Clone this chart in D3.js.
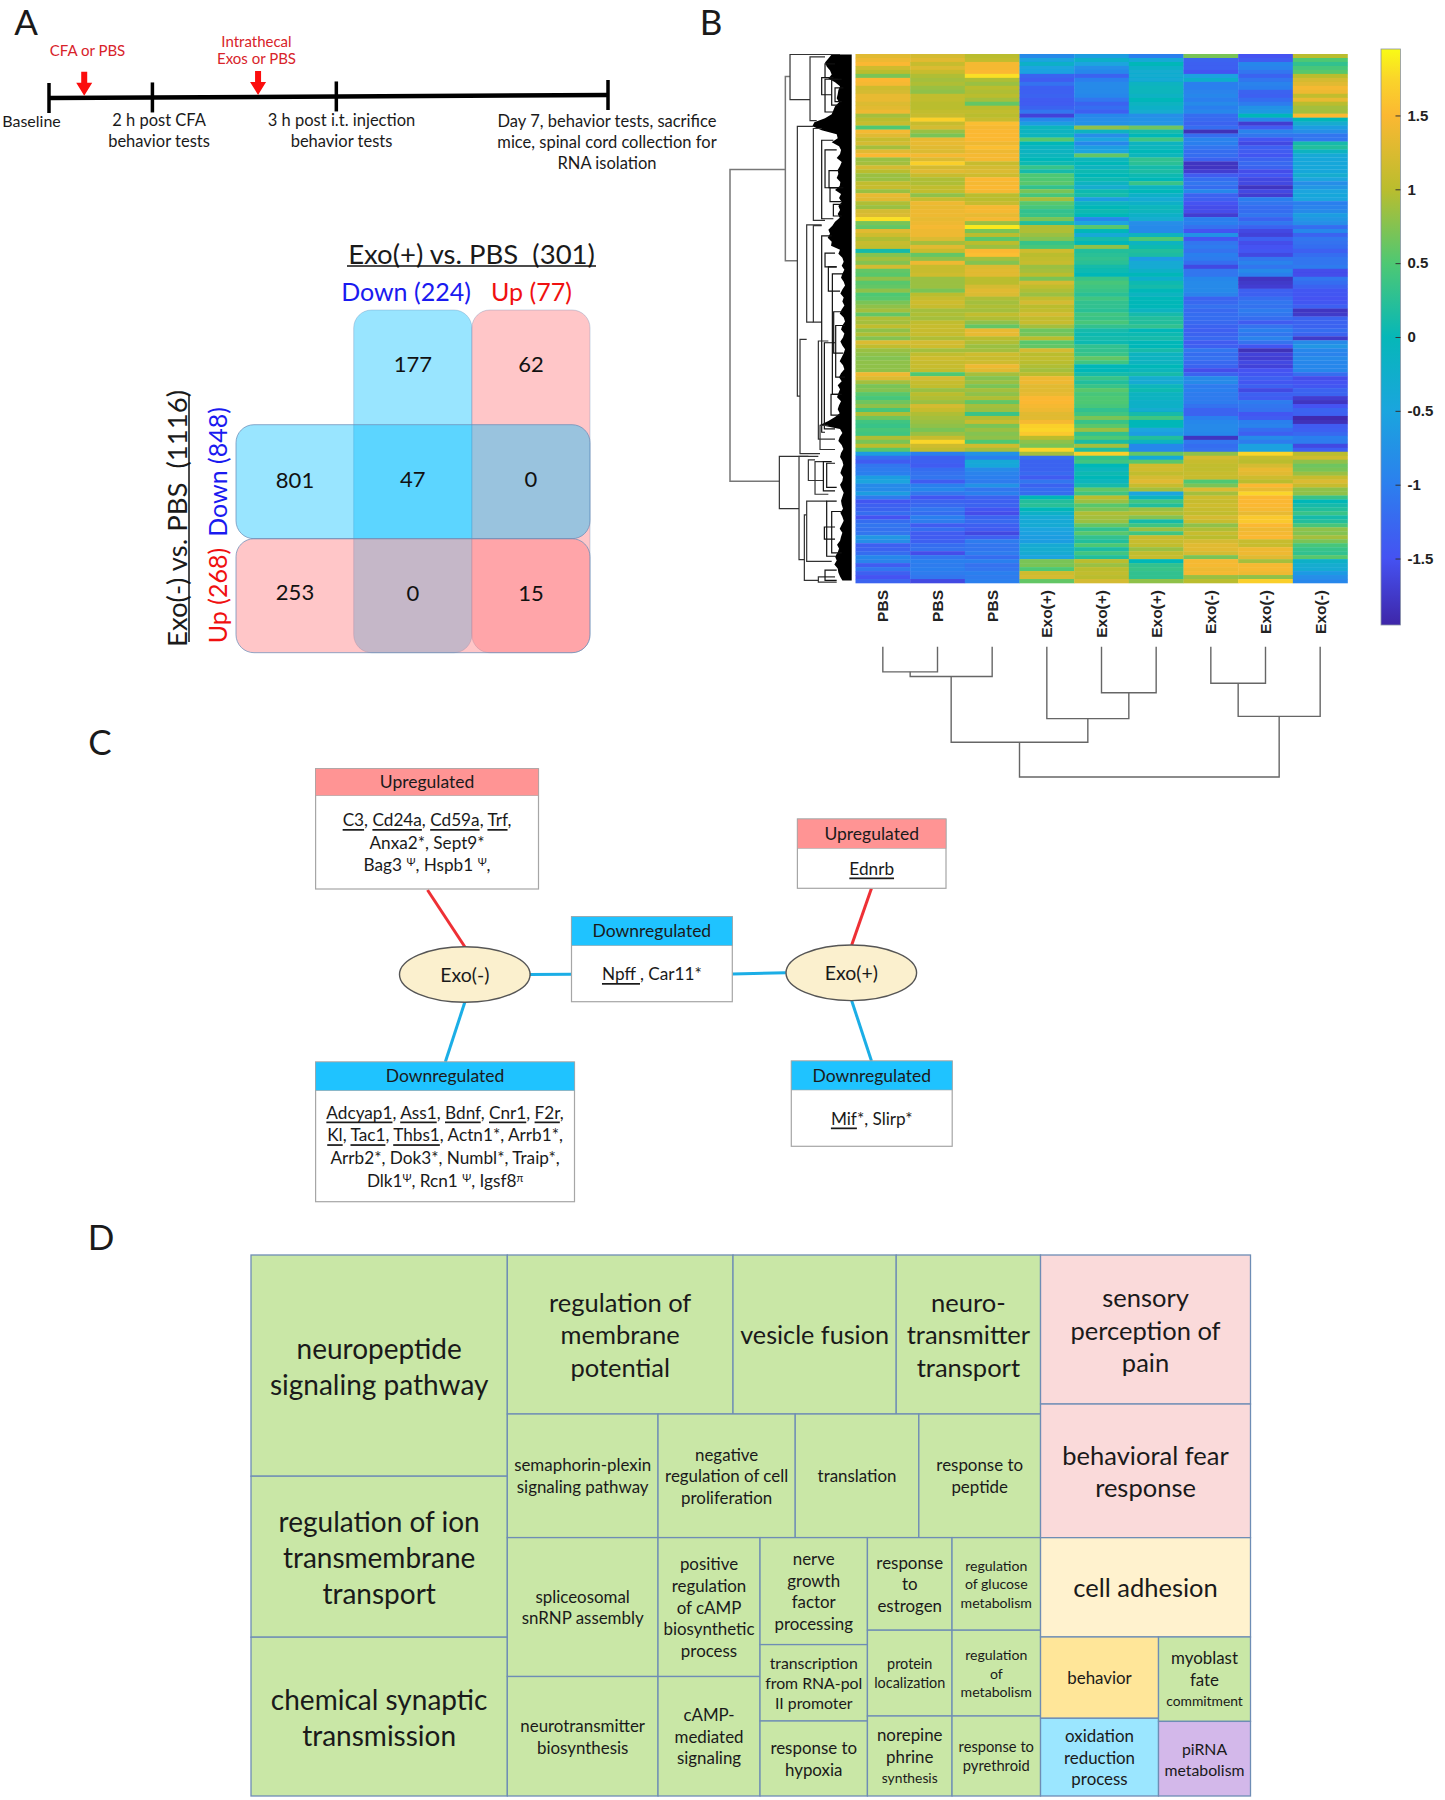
<!DOCTYPE html>
<html><head><meta charset="utf-8">
<script src="https://cdn.jsdelivr.net/npm/d3@7"></script>
<style>
html,body{margin:0;padding:0;background:#fff}
svg{display:block}
text{font-family:Lato,"Open Sans",sans-serif;fill:#1a1a1a;white-space:pre}
</style></head><body>
<svg id="fig" width="1445" height="1800" xmlns="http://www.w3.org/2000/svg"></svg>
<script>
/* ---------- Panel A : timeline ---------- */
const timelineStops = [0, 0.185, 0.514, 1];
const timelineTexts = [
  ["Baseline"], ["2 h post CFA","behavior tests"],
  ["3 h post i.t. injection","behavior tests"],
  ["Day 7, behavior tests, sacrifice","mice, spinal cord collection for","RNA isolation"]];
const timelineArrows = [0.063, 0.374];
const arrowTexts = [["CFA or PBS"],["Intrathecal","Exos or PBS"]];

/* ---------- Panel A : Venn table ---------- */
const vennColumns = ["Down (224)", "Up (77)"];
const vennRows = ["Down (848)", "Up (268)"];
const vennTop = [177, 62];
const vennLeft = [801, 253];
const vennInner = [[47, 0], [0, 15]];

/* ---------- Panel B : heat map, one array per sample, top gene group to bottom ---------- */
const sampleNames = ["PBS","PBS","PBS","Exo(+)","Exo(+)","Exo(+)","Exo(-)","Exo(-)","Exo(-)"];
const pbs1 = [1.3,1.4,1.5,1.15,1.0, .7,1.5,1.45,1.15,1.2, 1.35,1.35,1.25,1.3,1.4, .9,1.0,1.1,.5,1.45, 1.3,1.1,1.2,.9,1.3, 1.5,.85,.9,1.2,1.0, .85,.85,1.05,1.1,.85, 1.35,1.3,.95,.85,1.2, 1.25,1.8,.7,.6,1.3,
 1.15,.95,1.1,1.05,.1, .75,.9,.75,1.2,.6, .55,.8,.55,.6,.8, .5,.55,.7,.8,.9, .6,.95,.9,1.05,.8, .95,.75,1.25,1.05,.85, .8,.75,.8,.8,.8, 1.4,1.25,.9,.7,.75, .55,.45,.65,.8,.45,
 .95,.65,.4,.35,.45, .4,.95,.7,1.0,.55, -.6,-1.2,-1.4,-1.1,-1.05, -1.0,-.6,-.5,-.85,-.85, -.6,-1.05,-1.45,-1.35,-1.3, -1.2,-1.5,-1.2,-1.1,-1.15, -1.1,-.7,-.8,-1.35,-1.3, -1.2,-.9,-.95,-1.4,-1.1, -1.35,-1.5,-1.3];
const pbs2 = [1.2,1.3,1.1,1.25,1.1, .95,.9,.95,.85,.8, 1.05,1.05,1.0,1.0,1.05, 1.1,1.7,1.1,1.2,.85, .7,1.35,1.35,1.3,1.25, 1.45,1.25,1.7,1.2,1.3, 1.1,.95,.95,1.05,1.05, .8,1.1,1.4,1.35,1.4, 1.4,1.35,1.4,1.45,1.4,
 1.4,1.25,.9,1.3,1.1, .6,.8,1.4,1.1,1.1, 1.15,.85,.85,.85,.7, 1.0,1.1,1.15,1.1,.9, .95,.9,1.05,1.1,1.1, 1.1,.95,1.2,1.15,.9, 1.05,1.15,1.1,1.1,1.05, .5,1.2,1.1,1.05,.85, 1.0,.95,.85,1.2,1.1,
 .95,.9,.85,.8,.7, .85,1.1,1.75,1.15,1.05, -1.0,-1.35,-1.35,-1.4,-1.2, -1.15,-1.1,-1.4,-1.0,-.9, -1.1,-1.45,-1.3,-1.25,-1.1, -1.2,-1.0,-1.05,-1.4,-1.2, -1.4,-1.4,-1.35,-1.2,-1.15, -1.55,-1.1,-1.0,-1.05,-1.0, -1.05,-1.1,-1.6];
const pbs3 = [1.0,1.05,1.45,1.45,1.5, 1.8,.95,.85,1.0,.95, 1.0,.9,.6,1.0,1.05, 1.0,1.1,1.55,1.45,1.5, 1.5,1.5,1.4,1.55,1.4, 1.45,1.45,1.1,1.2,1.25, 1.15,1.5,1.45,1.5,1.45, 1.0,1.0,1.1,1.45,1.45, 1.35,1.45,.85,1.85,.7,
 1.0,.55,1.0,.85,1.5, 1.55,.9,.75,1.25,1.3, 1.3,1.0,1.0,1.2,1.3, 1.25,.95,.9,.95,.9, 1.05,.95,.8,.6,1.35, 1.35,1.0,.95,.85,.9, 1.15,1.1,1.15,1.4,1.3, .9,.75,.85,.7,.9, .8,.95,.6,.9,.85,
 .35,.95,1.1,.7,.85, .75,.8,.5,1.15,.9, -.75,-1.0,-.4,-.45,-.85, -.95,-1.0,-1.05,-.75,-1.1, -1.0,-1.3,-1.35,-1.3,-1.45, -1.55,-1.3,-1.25,-1.35,-1.4, -1.6,-1.35,-1.05,-1.1,-1.1, -1.05,-1.2,-1.0,-1.15,-1.1, -1.0,-1.05,-1.0];
const exoP1 = [-.85,-.5,-.2,-.5,-.55, -1.3,-1.4,-1.15,-1.35,-1.35, -1.3,-1.4,-1.4,-1.3,-1.1, -1.65,-.9,-.6,-.05,-.1, -.05,.55,.0,-.1,-.1, -.05,.0,.05,.35,.1, .5,.5,.55,.3,.7, .45,.9,.55,.45,.3, .35,.7,.2,.95,.95,
 .85,.75,.35,.45,1.15, 1.0,1.05,1.1,.85,.9, 1.0,.7,1.2,1.05,.95, .85,1.05,1.2,1.0,1.05, 1.2,1.05,1.1,.9,.65, .7,1.0,.55,.6,1.2, 1.0,1.05,1.0,.95,.9, 1.0,1.4,1.4,1.3,1.3, 1.35,1.5,1.5,1.45,1.4,
 1.3,1.3,1.45,1.7,1.75, 1.65,1.0,.8,.7,1.75, .9,-1.2,-1.3,-1.3,-1.3, -1.25,-1.4,-1.1,-1.3,-1.2, -1.2,.0,.2,.25,.0, -.2,-.35,-.4,-.35,-.5, -.55,-.6,-.6,-.35,-.3, -.35,-.5,.7,.7,.5, 1.15,1.2,.6];
const exoP2 = [-.6,-.2,-.5,-.8,-.9, -1.3,-1.0,-.85,-.85,-.85, -.9,-1.1,-1.3,-1.2,-1.35, -.9,-.8,-.75,.8,-.1, -.8,-.5,-.9,-.6,-.5, .6,-.05,.0,-.1,.05, .0,.05,-.1,-.3,.05, .1,-.6,-.1,.0,.05, .0,-.9,-.5,.55,.0,
 -.4,.1,.0,.8,.2, .25,.3,.25,.1,.05, .0,.35,.45,.4,.35, .25,.4,.3,.3,.25, .4,.35,.45,.3,.1, .05,.1,.05,.3,.3, .35,.6,.4,.0,.0, .1,.35,.2,.35,.55, .45,.5,.5,.45,.3,
 .4,.7,.35,.55,.85, .3,.5,.15,.9,.2, 1.7,.3,.4,.0,-.05, .05,.0,-.05,.1,.6, .4,1.0,.85,.55,.7, .95,.9,.85,.6,.3, .55,.3,.2,.5,.15, .4,.2,1.0,.85,1.0, 1.05,1.0,1.2];
const exoP3 = [-1.0,-.4,.0,-.2,-.3, -.3,-.35,-.1,-.05,-.05, -.15,.0,-.1,-.2,-.3, -.8,-.75,-.7,.65,.1, .0,.4,-.1,-.05,.0, -.05,.3,.25,.1,.15, .05,.0,.35,-.1,.0, -.2,-.35,-.2,-.05,-.05, -.2,-.3,-.8,-.85,-.85,
 -.1,.5,-.1,.05,.2, .15,-.6,-.35,-.35,-.2, .0,-.25,.05,.1,.0, -.1,.0,.0,.0,-.1, .1,.2,.2,.3,.0, .05,.1,.0,.0,.1, -.1,-.1,-.1,.0,-.05, .1,-.3,-.35,-.05,.05, -.1,-.1,-.2,-.2,-.3,
 .1,.4,.0,.0,-.5, -.6,.2,-.1,-.9,-.9, .6,-.4,.55,1.15,1.15, 1.05,1.2,1.3,1.1,.9, -.5,-.1,.4,.2,.85, .95,.75,.1,.4,.85, .4,1.1,1.1,1.05,.85, 1.05,1.1,.0,.3,.35, .3,.3,.8];
const exoN1 = [.7,-1.3,-1.35,-1.35,-1.5, -.55,-.25,-1.0,-1.0,-.95, -.9,-1.0,-.85,-1.0,-.9, -1.2,-1.25,-1.3,-1.2,-1.85, -1.2,-.95,-1.0,-1.1,-1.2, -1.2,-1.3,-1.8,-1.8,-1.7, -1.4,-1.2,-1.1,-1.2,-.9, -1.3,-1.35,-1.5,-1.55,-1.55, -1.7,-1.0,-1.0,-1.15,-1.5,
 -.75,-1.45,-1.1,-1.05,-1.15, -1.0,-1.05,-1.2,-1.6,-1.1, -1.1,-.9,-.85,-.85,-.85, -.95,-1.3,-1.25,-1.15,-1.25, -1.2,-1.2,-1.25,-1.3,-1.35, -1.3,-1.25,-1.4,-1.35,-1.1, -1.2,-1.15,-1.25,-1.3,-1.55, -1.3,-.85,-.85,-1.05,-1.0, -1.05,-1.05,-1.05,-1.15,-1.3,
 -1.3,-1.0,-.9,-.85,-.85, -.9,-1.8,-1.1,-1.2,-1.15, .8,1.2,1.1,1.05,1.05, 1.1,1.1,.5,.7,1.25, .9,1.15,1.1,1.15,1.1, 1.05,1.2,1.1,.8,.95, 1.1,1.0,1.2,1.3,1.3, 1.2,.7,1.45,1.45,1.4, 1.45,.85,1.0];
const exoN2 = [-1.5,-1.4,-.9,-.95,-1.1, -1.3,-1.1,-.95,-1.0,-1.3, -1.35,-1.2,-1.05,-.75,-.65, .0,-.9,-1.7,-1.4,-.95, -1.1,-1.45,-1.6,-1.35,-1.4, -1.45,-1.3,-1.25,-1.3,-1.55, -1.45,-1.6,-1.6,-1.8,-1.6, -1.7,-1.0,-1.1,-1.2,-1.2, -1.1,-1.3,-1.1,-1.3,-1.6,
 -1.65,-1.35,-1.55,-1.5,-1.45, -1.6,-1.1,-.95,-1.1,-.85, -1.0,-1.8,-1.75,-1.7,-1.35, -1.35,-1.2,-1.1,-1.15,-1.05, -1.1,-1.2,-1.4,-1.15,-1.0, -1.1,-.95,-1.15,-1.45,-1.85, -1.65,-1.7,-1.6,-1.65,-1.5, -1.45,-1.35,-1.45,-1.35,-1.6, -1.35,-1.4,-1.05,-1.1,-1.15,
 -1.45,-1.4,-1.0,-.95,-1.2, -1.35,-.85,-1.05,-.55,-.55, 1.75,1.1,1.0,1.2,1.35, 1.3,1.15,1.0,1.5,1.35, 1.75,1.5,1.5,1.5,1.45, 1.35,1.65,1.65,1.5,1.4, 1.45,1.5,1.1,1.1,1.4, 1.4,1.3,.9,1.45,1.45, 1.4,.8,1.7];
const exoN3 = [1.0,.5,.3,.45,.55, 1.0,1.2,1.3,1.45,1.4, 1.05,1.35,1.0,.9,.9, 1.5,.0,-.3,-.6,-.8, -1.1,-1.1,.1,.2,-.1, -.4,-.45,-.45,-.45,-.45, -.3,-.5,-.8,-.7,-.5, -.45,-.5,-1.0,-.95,-.85, -.6,-.7,-.8,-1.2,-.9,
 -1.3,-1.1,-1.15,-1.2,-1.35, -1.2,-1.1,-1.1,-1.05,-1.55, -1.55,-1.1,-1.2,-1.3,-1.45, -1.45,-1.5,-1.45,-1.35,-1.8, -1.75,-1.3,-1.3,-1.3,-1.2, -1.3,-1.75,-.85,-.7,-.9, -.95,-.85,-.9,-.9,-.9, -1.2,-1.55,-1.5,-1.45,-1.3, -1.3,-1.7,-1.8,-1.5,-1.3,
 -1.35,-1.9,-1.85,-1.4,-1.35, -1.25,-1.0,-1.05,-1.6,-1.35, 1.0,1.15,.8,.65,.7, .85,1.1,1.25,1.1,.8, .8,.35,.0,.1,.2, .35,.1,.2,.45,.8, .75,.9,.7,.45,.35, .3,.55,-.2,-.3,-.35, -.65,-.8,-.9];
const heatColumns = [pbs1,pbs2,pbs3,exoP1,exoP2,exoP3,exoN1,exoN2,exoN3];

/* colour bar */
const colorDomain = [-1.95,-1.5,-1,-.5,0,.5,1,1.5,1.75,1.95];
const colorRange = ["#3E26A8","#4552F2","#2C7FEE","#1AA5DE","#06B7B8","#4EC873","#BABD2E","#FBB832","#FAD52A","#F9FB15"];
const colorTicks = [-1.5,-1,-.5,0,.5,1,1.5];

/* sample tree: merges as [child, child, height]; children < 9 are samples, others earlier merges */
const sampleMerges = [[0,1,105.7],[9,2,101],[4,5,84.7],[3,11,58.7],[10,12,35],[6,7,94.3],[14,8,61],[13,15,0]];

/* gene tree, read in picture units (x left to right, y top to bottom) */
const geneClades = [[15,347,1252,181,163],[181,77,612,195,217],[195,13,144,345,255],[255,20,205,300,275],
 [217,222,1005,265,225],[265,228,495,290,300],[225,840,1172,245,285],[245,508,790,290,265],[265,510,790,290,290],
 [163,1180,1332,280,222],[222,1180,1480,250,238],[238,1350,1540,245,280],[245,1310,1485,305,320],
 [290,540,1110,320,300],[250,1190,1250,270,295],[270,1195,1290,295,310],[280,845,1130,310,330],
 [300,40,80,330,325],[290,80,130,320,320],[300,85,180,340,325],[320,85,160,350,340],[330,110,150,355,350],
 [290,262,490,325,325],[300,290,400,335,340],[312,350,400,345,355],[315,400,440,345,350],[325,448,482,350,350],
 [300,590,630,330,335],[310,630,700,335,345],[322,650,1000,355,350],[326,760,880,355,355],[332,800,950,360,360],
 [318,1000,1060,345,345],[298,850,1100,330,330],[285,1090,1160,310,330],[305,1200,1270,330,335],[295,1195,1280,320,330],
 [305,1310,1470,335,330],[298,1385,1420,330,330],[320,1340,1460,350,350],[280,1530,1545,330,335],[300,1510,1540,335,335]];
/* left edge of the solid leaf block, one reading per heat-map row, same units */
const leafEdge = [320,310,300,305,315,320,310,330,345,340,338,335,342,330,325,320,300,268,262,290,
 335,338,320,342,348,345,335,350,345,338,340,335,346,344,330,348,342,350,340,345,
 338,344,330,322,310,315,308,320,318,345,340,352,356,350,358,352,348,356,360,352,
 346,356,352,358,350,344,356,360,352,348,358,354,346,352,360,356,350,344,354,358,
 348,342,350,338,345,340,336,348,342,338,344,330,310,285,345,352,344,340,350,355,
 348,345,352,355,350,346,354,352,345,350,356,352,348,350,354,346,352,356,350,344,
 352,348,345,336,342,338,330,335,328,338,340,345,352];

/* ---------- Panel C : gene network ---------- */
const groupTitles = ["Upregulated","Downregulated","Downregulated","Upregulated","Downregulated"];
const groupGenes = [
  ["_C3_, _Cd24a_, _Cd59a_, _Trf_,","Anxa2*, Sept9*","Bag3 ^Ψ^, Hspb1 ^Ψ^,"],
  ["_Adcyap1_, _Ass1_, _Bdnf_, _Cnr1_, _F2r_,","_Kl_, _Tac1_, _Thbs1_, Actn1*, Arrb1*,","Arrb2*, Dok3*, Numbl*, Traip*,","Dlk1^Ψ^, Rcn1 ^Ψ^, Igsf8^π^"],
  ["_Npff _, Car11*"],
  ["_Ednrb_"],
  ["_Mif_*, Slirp*"]];
const treatments = ["Exo(-)","Exo(+)"];

/* ---------- Panel D : GO treemap ---------- */
const goTerms = ["neuropeptide|signaling pathway","regulation of ion|transmembrane|transport","chemical synaptic|transmission",
 "regulation of|membrane|potential","vesicle fusion","neuro-|transmitter|transport",
 "semaphorin-plexin|signaling pathway","negative|regulation of cell|proliferation","translation","response to|peptide",
 "spliceosomal|snRNP assembly","neurotransmitter|biosynthesis",
 "positive|regulation|of cAMP|biosynthetic|process","cAMP-|mediated|signaling",
 "nerve|growth|factor|processing","transcription|from RNA-pol|II promoter","response to|hypoxia",
 "response|to|estrogen","protein|localization","norepine|phrine|~synthesis",
 "regulation|of glucose|metabolism","regulation|of|metabolism","response to|pyrethroid",
 "sensory|perception of|pain","behavioral fear|response","cell adhesion",
 "behavior","oxidation|reduction|process","myoblast|fate|~commitment","piRNA|metabolism"];
const goAreas = [56694,41264,40701, 35886,25949,22944, 18627,16958,15277,15042, 20932,18009, 14168,12189,
 11492,8205,8055, 7834,7259,6768, 8195,7593,7080, 31290,28056,20853, 9593,9169,7765,6863];
const goGroups = ["g","g","g","g","g","g","g","g","g","g","g","g","g","g","g","g","g","g","g","g","g","g","g",
 "p","p","c","o","b","g","v"];
const goSizes = [28,28,28,25.5,25.2,25.5,16.9,16.9,16.9,16.9,16.9,16.9,16.9,16.9,16.9,15.8,16.9,16.9,14.4,16.9,14.1,14.1,14.7,25.5,25.5,25.5,16.9,16.9,16.9,15.8];
const goLeading = [36,36,36,32.5,32.5,32.5,21.7,21.7,21.7,21.7,21.7,21.7,21.7,21.7,21.7,20,21.7,21.7,18.5,21.7,18.2,18.2,19,32.5,32.5,32.5,21.7,21.7,21.5,21];

/* ---------- drawing ---------- */
const svg = d3.select("#fig");
const defs = svg.append("defs");
defs.append("filter").attr("id","soft").attr("x","0").attr("y","0").attr("width","1").attr("height","1")
  .append("feGaussianBlur").attr("stdDeviation","0 0.75");

function lines(g, arr, x, y, lh, size, fill, anchor){
  arr.forEach((t,i)=>g.append("text").attr("x",x).attr("y",y+i*lh).attr("text-anchor",anchor||"middle")
    .attr("dominant-baseline","central").attr("font-size",size).style("fill",fill||"#1a1a1a").text(t));
}
[["A",26,21],["B",711,21],["C",100,741],["D",101,1236]].forEach(d=>
  svg.append("text").attr("x",d[1]).attr("y",d[2]).attr("text-anchor","middle").attr("dominant-baseline","central")
     .attr("font-size",35).text(d[0]));

/* timeline */
{
  const g = svg.append("g");
  const tx = d3.scaleLinear([0,1],[49,608]);
  const ty = d3.scaleLinear([0,1],[98,95]);
  g.append("line").attr("x1",tx(0)).attr("x2",tx(1)).attr("y1",ty(0)).attr("y2",ty(1)).attr("stroke","#000").attr("stroke-width",4.5);
  g.selectAll(".tick").data(timelineStops).join("line")
    .attr("x1",tx).attr("x2",tx).attr("y1",d=>ty(d)-15).attr("y2",d=>ty(d)+15).attr("stroke","#000").attr("stroke-width",3.5);
  timelineArrows.forEach(d=>{
    const x=tx(d), y=ty(d)-2;
    g.append("path").attr("fill","#FB0D0D")
     .attr("d",`M${x},${y} l-8,-13 l5,0 l0,-11 l6,0 l0,11 l5,0 z`);
  });
  lines(g,timelineTexts[0],31.5,120,21,16);
  lines(g,timelineTexts[1],159,120,21,16.5);
  lines(g,timelineTexts[2],341.5,120,21,16.5);
  lines(g,timelineTexts[3],607,120.5,21,16.5);
  lines(g,arrowTexts[0],87.5,50,17,15);
  lines(g,arrowTexts[1],256.5,41,17,15);
  g.selectAll("text").filter(function(){return +this.getAttribute("font-size")===15;}).style("fill","#D8232A");
}

/* Venn */
{
  const g = svg.append("g");
  const cols = d3.scaleBand().domain([0,1]).range([353.7,590]);
  const rows = d3.scaleBand().domain([0,1]).range([424.7,652.7]);
  const leftCenter=295, topCenter=363;
  const BLUE="#00BFFF", PINK="#FF7C7F";
  const edge="#6C8FB8";
  [[0,BLUE,.4],[1,PINK,.43]].forEach(([i,c,o])=>g.append("rect").attr("x",cols(i)).attr("y",310).attr("width",cols.bandwidth())
    .attr("height",652.7-310).attr("rx",18).attr("fill",c).attr("fill-opacity",o).attr("stroke",edge).attr("stroke-opacity",.35));
  [[0,BLUE,.4],[1,PINK,.43]].forEach(([i,c,o])=>g.append("rect").attr("x",236).attr("y",rows(i)).attr("width",590-236)
    .attr("height",rows.bandwidth()).attr("rx",18).attr("fill",c).attr("fill-opacity",o).attr("stroke",edge).attr("stroke-opacity",.75));
  const num=(x,y,t)=>g.append("text").attr("x",x).attr("y",y).attr("text-anchor","middle").attr("dominant-baseline","central").attr("font-size",22).style("fill","#111").text(t);
  const cx=i=>cols(i)+cols.bandwidth()/2, ry=i=>rows(i)+rows.bandwidth()/2;
  vennTop.forEach((v,i)=>num(cx(i),topCenter,v));
  vennLeft.forEach((v,i)=>num(leftCenter,ry(i)-(i?4:2),v));
  vennInner.forEach((r,j)=>r.forEach((v,i)=>num(cx(i),ry(j)-(j?3.5:3),v)));
  /* headings */
  g.append("text").attr("x",471.5).attr("y",253).attr("text-anchor","middle").attr("dominant-baseline","central").attr("font-size",27.5).text("Exo(+) vs. PBS  (301)");
  g.append("line").attr("x1",347).attr("x2",596).attr("y1",266).attr("y2",266).attr("stroke","#111").attr("stroke-width",1.5);
  g.append("text").attr("x",406).attr("y",291).attr("text-anchor","middle").attr("dominant-baseline","central").attr("font-size",25).style("fill","#1A1AF0").text(vennColumns[0]);
  g.append("text").attr("x",531.5).attr("y",291).attr("text-anchor","middle").attr("dominant-baseline","central").attr("font-size",25).style("fill","#F01010").text(vennColumns[1]);
  const rot=(x,y,t,s,c)=>g.append("text").attr("transform",`translate(${x},${y}) rotate(-90)`).attr("text-anchor","middle").attr("dominant-baseline","central").attr("font-size",s).style("fill",c).text(t);
  rot(176.5,518.5,"Exo(-) vs. PBS  (1116)",27.5,"#1a1a1a");
  g.append("line").attr("x1",189).attr("x2",189).attr("y1",395).attr("y2",642).attr("stroke","#111").attr("stroke-width",1.5);
  rot(216.5,472,vennRows[0],25,"#1A1AF0");
  rot(216.5,595.5,vennRows[1],25,"#F01010");
}

/* heat map */
{
  const g = svg.append("g");
  const nRows = pbs1.length;
  const xCol = d3.scaleBand().domain(d3.range(9)).range([855.5,1347.5]);
  const yRow = d3.scaleBand().domain(d3.range(nRows)).range([54,583]);
  const color = d3.scaleLinear(colorDomain,colorRange).clamp(true);
  g.selectAll("g.col").data(heatColumns).join("g").attr("class","col")
    .attr("transform",(d,i)=>`translate(${xCol(i)},0)`)
    .attr("filter","url(#soft)")
    .selectAll("rect").data(d=>d).join("rect")
    .attr("x",0).attr("y",(d,i)=>yRow(i)).attr("width",xCol.bandwidth()+.3).attr("height",yRow.bandwidth()+.3)
    .attr("fill",d=>color(d));

  /* sample labels */
  sampleNames.forEach((s,i)=>{
    g.append("text").attr("transform",`translate(${xCol(i)+xCol.bandwidth()/2},590) rotate(-90)`)
     .attr("text-anchor","end").attr("dominant-baseline","central")
     .attr("font-size",15.5).attr("font-weight",700).style("font-family","'Liberation Sans',Arial,sans-serif").style("fill","#222").text(s);
  });

  /* sample dendrogram */
  const yTree = d3.scaleLinear([0,131],[777,646.7]);
  const nodes = sampleNames.map((s,i)=>({x:xCol(i)+xCol.bandwidth()/2,h:131}));
  const tree = g.append("g").attr("fill","none").attr("stroke","#666").attr("stroke-width",1.4);
  sampleMerges.forEach(([a,b,h])=>{
    const A=nodes[a],B=nodes[b];
    tree.append("path").attr("d",`M${A.x},${yTree(A.h)}V${yTree(h)}H${B.x}V${yTree(B.h)}`);
    nodes.push({x:(A.x+B.x)/2,h});
  });

  /* gene dendrogram */
  const xD = d3.scaleLinear([15,380],[730,851.7]);
  const yD = d3.scaleLinear([0,1568],[50,590]);
  const gt = g.append("g").attr("fill","none");
  const lastEdge = d3.scaleBand().domain(d3.range(leafEdge.length)).range([yD(13),yD(1552)]);
  const block = d3.area().curve(d3.curveLinear).x0(d=>xD(d)).x1(xD(380)).y((d,i)=>lastEdge(i));
  gt.append("path").attr("d",block(leafEdge)).attr("fill","#000");
  geneClades.forEach(([x,y0,y1,e0,e1],i)=>{
    gt.append("path").attr("stroke",i<2?"#777":(x<290?"#333":"#111")).attr("stroke-width",i<2?1.5:1.2)
      .attr("d",`M${xD(e0)},${yD(y0)}H${xD(x)}V${yD(y1)}H${xD(e1)}`);
  });

  /* colour bar */
  const yBar = d3.scaleLinear([-1.95,1.95],[625,49]);
  const grad = defs.append("linearGradient").attr("id","parula").attr("x1",0).attr("x2",0).attr("y1",1).attr("y2",0);
  colorDomain.forEach((v,i)=>grad.append("stop").attr("offset",(v+1.95)/3.9).attr("stop-color",colorRange[i]));
  g.append("rect").attr("x",1381).attr("y",49).attr("width",19.5).attr("height",576).attr("fill","url(#parula)").attr("stroke","#8a94a6").attr("stroke-width",.8);
  const ax = g.append("g").attr("transform","translate(1400.5,0)")
    .call(d3.axisRight(yBar).tickValues(colorTicks).tickSizeInner(-5).tickSizeOuter(0).tickPadding(7).tickFormat(d=>String(d)));
  ax.select(".domain").remove();
  ax.selectAll("line").attr("stroke","#333");
  ax.selectAll("text").attr("font-size",15).attr("font-weight",700).style("font-family","'Liberation Sans',Arial,sans-serif").style("fill","#222");
}

/* gene network */
{
  const g = svg.append("g");
  const RED="#EE3035", SKY="#1BAEE6";
  const links=[[427.5,890,464.8,946.7,RED],[464.8,1002.3,445.3,1062,SKY],[529.8,974.5,571.5,974.3,SKY],[732.3,974,785.8,972.7,SKY],[871.5,888.3,851.7,945,RED],[851.7,1000.7,871.5,1061,SKY]];
  links.forEach(l=>g.append("line").attr("x1",l[0]).attr("y1",l[1]).attr("x2",l[2]).attr("y2",l[3]).attr("stroke",l[4]).attr("stroke-width",3));
  const boxes=[[315.6,768.7,538.5,795.7,889,819,22.6],[315.6,1062,574.5,1090.7,1201.7,1111.5,22.7],[571.5,916.7,732.3,945.7,1001.7,973,0],[797.4,819,946,848.3,888.3,867.5,0],[791.3,1061,952.2,1090,1146.3,1117.5,0]];
  boxes.forEach((b,i)=>{
    const [x0,y0,x1,yh,y1,ty,lh]=b, up=groupTitles[i]==="Upregulated", c=(x0+x1)/2;
    g.append("rect").attr("x",x0).attr("y",y0).attr("width",x1-x0).attr("height",y1-y0).attr("fill","#fff").attr("stroke","#A6A6A6").attr("stroke-width",1.2);
    g.append("rect").attr("x",x0).attr("y",y0).attr("width",x1-x0).attr("height",yh-y0).attr("fill",up?"#FF9494":"#1FC3FF").attr("stroke","#A6A6A6").attr("stroke-width",.6);
    g.append("text").attr("x",c).attr("y",(y0+yh)/2-.5).attr("text-anchor","middle").attr("dominant-baseline","central").attr("font-size",17.5).text(groupTitles[i]);
    groupGenes[i].forEach((ln,j)=>{
      const t=g.append("text").attr("x",c).attr("y",ty+j*lh).attr("text-anchor","middle").attr("dominant-baseline","central").attr("font-size",17.2);
      let raised=false;
      ln.split(/(_[^_]*_|\^[^^]*\^)/).filter(s=>s.length).forEach(s=>{
        if(s[0]==="_"){ t.append("tspan").attr("dy",raised?3:null).style("text-decoration","underline").text(s.slice(1,-1)); raised=false; }
        else if(s[0]==="^"){ t.append("tspan").attr("font-size",11).attr("dy",-3).text(s.slice(1,-1)); raised=true; }
        else { t.append("tspan").attr("dy",raised?3:null).text(s); raised=false; }
      });
    });
  });
  [[464.8,974.5,treatments[0]],[851.3,972.8,treatments[1]]].forEach(e=>{
    g.append("ellipse").attr("cx",e[0]).attr("cy",e[1]).attr("rx",65.3).attr("ry",27.8).attr("fill","#FBF0CE").attr("stroke","#555").attr("stroke-width",1.4);
    g.append("text").attr("x",e[0]).attr("y",e[1]).attr("text-anchor","middle").attr("dominant-baseline","central").attr("font-size",19.5).text(e[2]);
  });
}

/* treemap */
{
  const g = svg.append("g");
  const fills={g:"#C9E7A6",p:"#FADADA",c:"#FFF2CE",o:"#FFE699",b:"#9BE6FF",v:"#D3B8EA"};
  const leaf=i=>({idx:i,value:goAreas[i]});
  const X=(...c)=>({dir:"x",children:c.map(v=>typeof v==="number"?leaf(v):v)});
  const Y=(...c)=>({dir:"y",children:c.map(v=>typeof v==="number"?leaf(v):v)});
  const tree=X(
    X(Y(0,1,2),
      Y(X(3,4,5),X(6,7,8,9),X(Y(10,11),Y(12,13),Y(14,15,16),Y(17,18,19),Y(20,21,22)))),
    Y(23,24,25,X(Y(26,27),Y(28,29))));
  const root=d3.hierarchy(tree).sum(d=>d.value||0);
  d3.treemap().size([999.5,541]).round(false).paddingInner(0)
    .tile((n,x0,y0,x1,y1)=>(n.data.dir==="x"?d3.treemapDice:d3.treemapSlice)(n,x0,y0,x1,y1))(root);
  const cell=g.attr("transform","translate(251,1255)").selectAll("g").data(root.leaves()).join("g");
  cell.append("rect").attr("x",d=>d.x0).attr("y",d=>d.y0).attr("width",d=>d.x1-d.x0).attr("height",d=>d.y1-d.y0)
    .attr("fill",d=>fills[goGroups[d.data.idx]]).attr("stroke","#6E8DB5").attr("stroke-width",1.3);
  cell.each(function(d){
    const i=d.data.idx, ls=goTerms[i].split("|"), lh=goLeading[i], cx=(d.x0+d.x1)/2, cy=(d.y0+d.y1)/2;
    ls.forEach((s,j)=>{
      const small=s[0]==="~";
      d3.select(this).append("text").attr("x",cx).attr("y",cy+(j-(ls.length-1)/2)*lh)
        .attr("text-anchor","middle").attr("dominant-baseline","central")
        .attr("font-size",small?goSizes[i]*.82:goSizes[i]).text(small?s.slice(1):s);
    });
  });
}
</script>
</body></html>
